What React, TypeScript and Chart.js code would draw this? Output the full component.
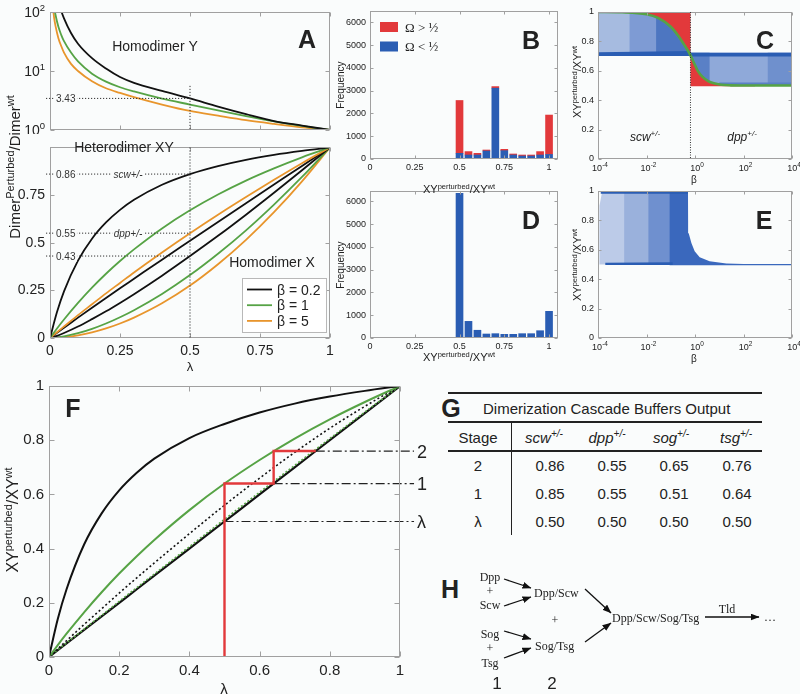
import React, { useEffect, useRef } from "react";
import { Chart, registerables } from "chart.js";
Chart.register(...registerables);

const SANS = '"Liberation Sans", Arial, Helvetica, sans-serif';
const SERIF = '"Liberation Serif", "Times New Roman", serif';
const BG = "#fafcfc";
const BLACK = "#111111";
const GREEN = "#56a345";
const ORANGE = "#e8952c";
const RED = "#e2393b";
const BLUE = "#2a5db3";
const FRAME = "#a0a0a0";

// ---------------- Panel A data ----------------
const lambdaY = [0.01, 0.015, 0.02, 0.03, 0.04, 0.05, 0.075, 0.1, 0.15, 0.2, 0.25, 0.3, 0.4, 0.5, 0.6, 0.7, 0.8, 0.9, 1];
const homodimerY_b02 = [1000, 480, 280, 160, 105, 78, 44, 29, 16.5, 11, 7.9, 6.3, 4.6, 3.43, 2.5, 1.86, 1.42, 1.19, 1];
const homodimerY_b1 = [190, 120, 88, 56, 41, 32, 20.5, 14.5, 9, 6.6, 5.3, 4.5, 3.4, 2.7, 2.15, 1.72, 1.4, 1.17, 1];
const homodimerY_b5 = [125, 78, 57, 36, 26.5, 20.5, 13.2, 10, 6.7, 5.1, 4.25, 3.6, 2.7, 2.1, 1.75, 1.47, 1.27, 1.11, 1];

const lambdaGrid = [0, 0.025, 0.05, 0.1, 0.15, 0.2, 0.25, 0.3, 0.4, 0.5, 0.6, 0.7, 0.8, 0.9, 1];
const heteroXY_b02 = [0, 0.136, 0.245, 0.406, 0.521, 0.606, 0.672, 0.725, 0.804, 0.86, 0.902, 0.935, 0.961, 0.982, 1];
const heteroXY_b1 = [0, 0.05, 0.097, 0.184, 0.264, 0.337, 0.404, 0.465, 0.575, 0.67, 0.753, 0.826, 0.89, 0.948, 1];
const heteroXY_b5 = [0, 0.03, 0.06, 0.12, 0.177, 0.234, 0.289, 0.344, 0.449, 0.55, 0.647, 0.74, 0.83, 0.917, 1];
const middle_b02 = [0, 0.028, 0.054, 0.107, 0.159, 0.21, 0.261, 0.311, 0.411, 0.51, 0.609, 0.707, 0.805, 0.903, 1];
const homodimerX_b02 = [0, 0.011, 0.026, 0.06, 0.099, 0.14, 0.184, 0.23, 0.327, 0.43, 0.536, 0.647, 0.762, 0.88, 1];
const homodimerX_b1 = [0, 0.003, 0.008, 0.025, 0.048, 0.076, 0.109, 0.146, 0.231, 0.33, 0.442, 0.565, 0.7, 0.845, 1];
const homodimerX_b5 = [0, 0.001, 0.004, 0.014, 0.029, 0.05, 0.076, 0.107, 0.182, 0.275, 0.387, 0.515, 0.66, 0.822, 1];

const betaLegend = ["\u03b2 = 0.2", "\u03b2 = 1", "\u03b2 = 5"];
const aTicksX = [0, 0.25, 0.5, 0.75, 1];
const aTicksY = [0, 0.25, 0.5, 0.75];
const aTicksLog = [1, 10, 100];
const refLambda = 0.5;
const refHomY = 3.43;
const refXYValues = [0.86, 0.55, 0.43];
const refXYLabels = ["0.86", "0.55", "0.43"];
const refXYGenes = ["scw+/-", "dpp+/-", ""];

// ---------------- Panels B / D ----------------
const histBins = [0.5, 0.55, 0.6, 0.65, 0.7, 0.75, 0.8, 0.85, 0.9, 0.95, 1.0];
const bOmegaLow = [250, 175, 175, 350, 3110, 365, 175, 130, 130, 175, 200];
const bOmegaHigh = [2320, 150, 75, 45, 70, 60, 45, 45, 45, 150, 1730];
const dCounts = [6350, 730, 340, 175, 190, 160, 160, 190, 190, 320, 1170];
const histTicksX = [0, 0.25, 0.5, 0.75, 1];
const histTicksY = [0, 1000, 2000, 3000, 4000, 5000, 6000];
const omegaLegend = ["\u03a9 > \u00bd", "\u03a9 < \u00bd"];

// ---------------- Panels C / E ----------------
const betaTicks = [1e-4, 1e-2, 1, 1e2, 1e4];
const fracTicks = [0, 0.2, 0.4, 0.6, 0.8, 1];
const cCurveBeta = [1e-4, 1e-3, 1e-2, 0.03, 0.1, 0.2, 0.35, 0.5, 0.65, 0.9, 1.3, 2, 3.5, 6, 12, 30, 100, 1e4];
const cCurveY = [1.0, 0.998, 0.985, 0.96, 0.9, 0.84, 0.78, 0.74, 0.705, 0.655, 0.6, 0.56, 0.53, 0.515, 0.505, 0.501, 0.5, 0.5];
const cSplitBeta = 0.65;
const cRedLeft = [[1e-4, 1.0], [0.65, 1.0], [0.65, 0.705], [0.5, 0.74], [0.35, 0.78], [0.2, 0.84], [0.1, 0.9], [0.03, 0.96], [0.01, 0.985], [1e-3, 0.998], [1e-4, 1.0]];
const cBlueLeftSparse = [[1e-4, 0.7], [0.65, 0.7], [0.65, 0.705], [0.5, 0.74], [0.35, 0.78], [0.2, 0.84], [0.1, 0.9], [0.03, 0.96], [0.01, 0.985], [1e-3, 0.997], [1e-4, 0.998]];
const cBlueLeftMid = [[2e-3, 0.7], [0.65, 0.7], [0.65, 0.705], [0.5, 0.74], [0.35, 0.78], [0.2, 0.84], [0.1, 0.9], [0.03, 0.96], [0.01, 0.985], [2e-3, 0.995]];
const cBlueLeftDense = [[0.025, 0.7], [0.65, 0.7], [0.65, 0.705], [0.5, 0.74], [0.35, 0.78], [0.2, 0.84], [0.1, 0.9], [0.03, 0.96], [0.025, 0.965]];
const cBlueLeftBand = [[1e-4, 0.7], [0.65, 0.7], [0.65, 0.735], [1e-4, 0.726]];
const cRedRight = [[0.65, 0.705], [0.9, 0.655], [1.3, 0.6], [2, 0.56], [3.5, 0.53], [6, 0.515], [12, 0.505], [30, 0.501], [100, 0.5], [300, 0.497], [300, 0.495], [0.65, 0.495]];
const cBlueRightSparse = [[0.65, 0.722], [1e4, 0.722], [1e4, 0.497], [100, 0.497], [30, 0.501], [12, 0.505], [6, 0.515], [3.5, 0.53], [2, 0.56], [1.3, 0.6], [0.9, 0.655], [0.65, 0.705]];
const cBlueRightDense = [[0.65, 0.705], [0.65, 0.722], [4, 0.722], [4, 0.528], [2, 0.56], [1.3, 0.6], [0.9, 0.655]];
const cBlueRightEdge = [[1000, 0.5], [1e4, 0.497], [1e4, 0.722], [1000, 0.722]];
const cBlueRightBand = [[0.65, 0.698], [1e4, 0.698], [1e4, 0.722], [0.65, 0.722]];
const cBlueRightBottom = [[10, 0.503], [1e4, 0.497], [1e4, 0.52], [10, 0.52]];

const eSparse = [[1.15e-4, 0.5], [0.12, 0.5], [0.12, 1.0], [1.5e-4, 1.0], [1.15e-4, 0.9]];
const eMid1 = [[1.2e-3, 0.5], [0.12, 0.5], [0.12, 1.0], [1.2e-3, 1.0]];
const eMid2 = [[0.012, 0.5], [0.12, 0.5], [0.12, 1.0], [0.012, 1.0]];
const eDense = [[0.09, 0.495], [1e4, 0.495], [1e4, 0.503], [100, 0.503], [19.6, 0.507], [4, 0.522], [1.56, 0.55], [0.97, 0.59], [0.71, 0.646], [0.55, 0.713], [0.52, 0.8], [0.514, 1.0], [0.09, 1.0]];
const eTopBand = [[1.3e-4, 0.982], [0.514, 0.982], [0.514, 1.0], [1.3e-4, 1.0]];
const eBottomBand = [[2e-4, 0.497], [0.12, 0.497], [0.12, 0.515], [2e-4, 0.512]];

// ---------------- Panel F ----------------
const fTicks = [0, 0.2, 0.4, 0.6, 0.8, 1];
const fBlack = [0, 0.14, 0.25, 0.415, 0.53, 0.615, 0.68, 0.732, 0.808, 0.86, 0.902, 0.935, 0.961, 0.982, 1];
const fGreen = [0, 0.044, 0.086, 0.165, 0.239, 0.308, 0.372, 0.432, 0.542, 0.64, 0.727, 0.806, 0.877, 0.941, 1];
const fDotted = [0, 0.03, 0.06, 0.12, 0.178, 0.236, 0.292, 0.347, 0.455, 0.56, 0.66, 0.755, 0.844, 0.925, 1];
const fGreenDotted = [0, 0.026, 0.052, 0.103, 0.154, 0.205, 0.256, 0.306, 0.407, 0.508, 0.608, 0.707, 0.806, 0.904, 1];
const fDiagonal = [0, 0.025, 0.05, 0.1, 0.15, 0.2, 0.25, 0.3, 0.4, 0.5, 0.6, 0.7, 0.8, 0.9, 1];
const stepX = [0.5, 0.5, 0.64, 0.64, 0.76];
const stepY = [0, 0.64, 0.64, 0.76, 0.76];
const stageLevels = [0.5, 0.64, 0.76];
const stageLabels = ["\u03bb", "1", "2"];
const stageLineEnd = 1.04;

// ---------------- Panel G ----------------
const tableGenes = ["scw", "dpp", "sog", "tsg"];
const tableStages = ["2", "1", "\u03bb"];
const tableValues = [
  ["0.86", "0.55", "0.65", "0.76"],
  ["0.85", "0.55", "0.51", "0.64"],
  ["0.50", "0.50", "0.50", "0.50"],
];

// ---------------- helpers ----------------
type Pt = { x: number; y: number };
const toPts = (xs: number[], ys: number[]): Pt[] => xs.map((x, i) => ({ x, y: ys[i] }));
const toPoly = (p: number[][]): Pt[] => p.map(([x, y]) => ({ x, y }));

interface Frame { cl: number; ct: number; cw: number; ch: number; x0: number; y0: number; x1: number; y1: number; }

type Seg = { t: string; s: number; sup?: boolean; it?: boolean; b?: boolean; fam?: string };
function rich(ctx: CanvasRenderingContext2D, segs: Seg[], x: number, y: number, align: "left" | "center" | "right", color = "#222", bg?: string) {
  const fnt = (g: Seg) => `${g.it ? "italic " : ""}${g.b ? "bold " : ""}${g.s}px ${g.fam || SANS}`;
  const mains = segs.filter((g) => !g.sup).map((g) => g.s);
  const main = mains.length ? Math.max(...mains) : segs[0].s;
  const ws = segs.map((g) => { ctx.font = fnt(g); return ctx.measureText(g.t).width; });
  const w = ws.reduce((a, b) => a + b, 0);
  let cx = align === "left" ? x : align === "center" ? x - w / 2 : x - w;
  const base = y + main * 0.36;
  if (bg) { ctx.fillStyle = bg; ctx.fillRect(cx - 1.5, y - main * 0.55, w + 3, main * 1.1); }
  ctx.fillStyle = color; ctx.textAlign = "left"; ctx.textBaseline = "alphabetic";
  segs.forEach((g, i) => { ctx.font = fnt(g); ctx.fillText(g.t, cx, g.sup ? base - main * 0.42 : base); cx += ws[i]; });
}
function segLine(ctx: CanvasRenderingContext2D, x1: number, y1: number, x2: number, y2: number, color = "#333", dash: number[] = [1.2, 1.8], w = 1) {
  ctx.save(); ctx.strokeStyle = color; ctx.lineWidth = w; ctx.setLineDash(dash);
  ctx.beginPath(); ctx.moveTo(x1, y1); ctx.lineTo(x2, y2); ctx.stroke(); ctx.restore();
}

function framePlugin(xTicks: number[], yTicks: number[], len = 4) {
  return {
    id: "frame",
    afterDatasetsDraw(chart: any) {
      const { ctx, chartArea: a } = chart;
      const sx = chart.scales.x, sy = chart.scales.y;
      ctx.save();
      ctx.strokeStyle = FRAME; ctx.lineWidth = 1; ctx.setLineDash([]);
      const L = Math.round(a.left) + 0.5, T = Math.round(a.top) + 0.5, R = Math.round(a.right) - 0.5, B = Math.round(a.bottom) - 0.5;
      ctx.strokeRect(L, T, R - L, B - T);
      ctx.beginPath();
      for (const v of xTicks) { const x = Math.round(sx.getPixelForValue(v)) + 0.5; ctx.moveTo(x, B); ctx.lineTo(x, B - len); ctx.moveTo(x, T); ctx.lineTo(x, T + len); }
      for (const v of yTicks) { const y = Math.round(sy.getPixelForValue(v)) + 0.5; ctx.moveTo(L, y); ctx.lineTo(L + len, y); ctx.moveTo(R, y); ctx.lineTo(R - len, y); }
      ctx.stroke();
      ctx.restore();
    },
  };
}
function drawPlugin(fn: (chart: any) => void) {
  return { id: "ann", afterDatasetsDraw(chart: any) { const ctx = chart.ctx; ctx.save(); fn(chart); ctx.restore(); } };
}

function axis(kind: "x" | "y", f: Frame, o: { type?: string; min: number; max: number; ticks: number[]; size?: number; pad?: number; hide?: boolean; stacked?: boolean }) {
  return {
    type: o.type || "linear", min: o.min, max: o.max, position: kind === "x" ? "bottom" : "left",
    offset: false, stacked: o.stacked,
    grid: { display: false, drawTicks: false },
    border: { display: false },
    ticks: {
      display: !o.hide, autoSkip: false, maxRotation: 0, minRotation: 0, padding: o.pad ?? 4, color: "#222",
      font: { family: SANS, size: o.size ?? 12 },
      callback: (v: any) => String(Number(v)),
    },
    afterBuildTicks: (s: any) => { s.ticks = o.ticks.map((v) => ({ value: v })); },
    afterFit: (s: any) => { if (kind === "x") s.height = f.ct + f.ch - f.y1; else s.width = f.x0 - f.cl; },
  };
}
function baseOptions(f: Frame, scales: any) {
  return {
    responsive: false, maintainAspectRatio: false, animation: false, events: [],
    layout: { autoPadding: false, padding: { left: 0, top: f.y0 - f.ct, right: f.cl + f.cw - f.x1, bottom: 0 } },
    plugins: { legend: { display: false }, tooltip: { enabled: false }, title: { display: false } },
    scales,
  };
}
const curve = (data: Pt[], color: string, width = 1.8, dash: number[] = []) => ({
  type: "line", data, borderColor: color, borderWidth: width, borderDash: dash, pointRadius: 0, fill: false,
  tension: 0.3, cubicInterpolationMode: "monotone",
});
const straight = (data: Pt[], color: string, width = 2, dash: number[] = [], clip: any = undefined) => ({
  type: "line", data, borderColor: color, borderWidth: width, borderDash: dash, pointRadius: 0, fill: false, tension: 0, clip,
});
const area = (p: number[][], color: string) => ({
  type: "line", data: toPoly(p), borderColor: "rgba(0,0,0,0)", borderWidth: 0, backgroundColor: color, fill: "shape", pointRadius: 0, tension: 0,
});
const bottomUp = (ds: any[]) => ds.map((d, i) => ({ ...d, order: ds.length - i }));

function logLabelsX(ctx: CanvasRenderingContext2D, chart: any, ticks: number[], size: number, dy: number) {
  const a = chart.chartArea, sx = chart.scales.x;
  for (const v of ticks) {
    rich(ctx, [{ t: "10", s: size }, { t: String(Math.round(Math.log10(v))), s: size * 0.72, sup: true }], sx.getPixelForValue(v) + 2, a.bottom + dy, "center");
  }
}

// ---------------- frames ----------------
const fAT: Frame = { cl: 0, ct: 0, cw: 340, ch: 134, x0: 50, y0: 12, x1: 330, y1: 130 };
const fAB: Frame = { cl: 0, ct: 134, cw: 340, ch: 236, x0: 50, y0: 137, x1: 330, y1: 338 };
const fB: Frame = { cl: 330, ct: 0, cw: 240, ch: 196, x0: 370, y0: 11, x1: 558, y1: 159 };
const fD: Frame = { cl: 330, ct: 180, cw: 240, ch: 190, x0: 370, y0: 191, x1: 558, y1: 338 };
const fC: Frame = { cl: 570, ct: 0, cw: 230, ch: 196, x0: 598, y0: 12, x1: 792, y1: 159 };
const fE: Frame = { cl: 570, ct: 180, cw: 230, ch: 190, x0: 598, y0: 191, x1: 792, y1: 338 };
const fF: Frame = { cl: 0, ct: 372, cw: 440, ch: 322, x0: 49, y0: 382, x1: 400, y1: 657 };

// ---------------- chart configs ----------------
function makeAT(f: Frame) {
  return {
    type: "line",
    data: { datasets: [
      curve(toPts(lambdaY, homodimerY_b02), BLACK),
      curve(toPts(lambdaY, homodimerY_b1), GREEN),
      curve(toPts(lambdaY, homodimerY_b5), ORANGE),
    ] },
    options: baseOptions(f, {
      x: axis("x", f, { min: 0, max: 1, ticks: aTicksX, hide: true }),
      y: axis("y", f, { type: "logarithmic", min: 1, max: 100, ticks: aTicksLog, hide: true }),
    }),
    plugins: [framePlugin(aTicksX, aTicksLog), drawPlugin((chart) => {
      const ctx = chart.ctx, a = chart.chartArea, sx = chart.scales.x, sy = chart.scales.y;
      const xr = sx.getPixelForValue(refLambda), yr = sy.getPixelForValue(refHomY);
      segLine(ctx, a.left - 4, yr, xr, yr);
      segLine(ctx, xr, sy.getPixelForValue(5.6), xr, a.bottom);
      rich(ctx, [{ t: "3.43", s: 10 }], a.left + 6, yr, "left", "#333", BG);
      for (const v of aTicksLog) {
        rich(ctx, [{ t: "10", s: 14 }, { t: String(Math.round(Math.log10(v))), s: 9.5, sup: true }], a.left - 5, sy.getPixelForValue(v), "right");
      }
      rich(ctx, [{ t: "Homodimer Y", s: 14 }], 155, 46, "center");
    })],
  };
}

function makeAB(f: Frame) {
  const colors = [BLACK, GREEN, ORANGE];
  return {
    type: "line",
    data: { datasets: [
      curve(toPts(lambdaGrid, heteroXY_b02), BLACK),
      curve(toPts(lambdaGrid, heteroXY_b1), GREEN),
      curve(toPts(lambdaGrid, heteroXY_b5), ORANGE),
      curve(toPts(lambdaGrid, middle_b02), BLACK),
      curve(toPts(lambdaGrid, homodimerX_b02), BLACK),
      curve(toPts(lambdaGrid, homodimerX_b1), GREEN),
      curve(toPts(lambdaGrid, homodimerX_b5), ORANGE),
    ] },
    options: baseOptions(f, {
      x: axis("x", f, { min: 0, max: 1, ticks: aTicksX, size: 14, pad: 5 }),
      y: axis("y", f, { min: 0, max: 1, ticks: aTicksY, size: 14, pad: 5 }),
    }),
    plugins: [framePlugin(aTicksX, aTicksY), drawPlugin((chart) => {
      const ctx = chart.ctx, a = chart.chartArea, sx = chart.scales.x, sy = chart.scales.y;
      const xr = sx.getPixelForValue(refLambda);
      segLine(ctx, xr, a.top, xr, a.bottom);
      refXYValues.forEach((v, i) => {
        const y = sy.getPixelForValue(v);
        segLine(ctx, a.left - 4, y, xr, y);
        rich(ctx, [{ t: refXYLabels[i], s: 10 }], a.left + 6, y, "left", "#333", BG);
        if (refXYGenes[i]) rich(ctx, [{ t: refXYGenes[i], s: 10, it: true }], 128, y, "center", "#333", BG);
      });
      rich(ctx, [{ t: "Heterodimer XY", s: 14 }], 124, 13, "center");
      rich(ctx, [{ t: "Homodimer X", s: 14 }], 272, 128, "center");
      ctx.fillStyle = "#ffffff"; ctx.fillRect(242.5, 144.5, 84, 54);
      ctx.strokeStyle = "#b8b8b8"; ctx.lineWidth = 1; ctx.setLineDash([]); ctx.strokeRect(242.5, 144.5, 84, 54);
      betaLegend.forEach((t, i) => {
        const y = 155.5 + i * 15.7;
        ctx.strokeStyle = colors[i]; ctx.lineWidth = 1.8; ctx.beginPath(); ctx.moveTo(247, y); ctx.lineTo(272, y); ctx.stroke();
        rich(ctx, [{ t, s: 14 }], 277, y, "left");
      });
    })],
  };
}

function makeB(f: Frame) {
  return {
    type: "bar",
    data: { datasets: [
      { label: omegaLegend[1], data: toPts(histBins, bOmegaLow), backgroundColor: BLUE, barThickness: 7 },
      { label: omegaLegend[0], data: toPts(histBins, bOmegaHigh), backgroundColor: RED, barThickness: 7 },
    ] },
    options: baseOptions(f, {
      x: axis("x", f, { min: 0, max: 1.05, ticks: histTicksX, size: 9, pad: 3, stacked: true }),
      y: axis("y", f, { min: 0, max: 6500, ticks: histTicksY, size: 9, pad: 4, stacked: true }),
    }),
    plugins: [framePlugin(histTicksX, histTicksY, 3), drawPlugin((chart) => {
      const ctx = chart.ctx;
      const cols = [RED, BLUE];
      omegaLegend.forEach((t, i) => {
        const y = 27 + i * 19.5;
        ctx.fillStyle = cols[i]; ctx.fillRect(50, y - 5, 18, 10);
        rich(ctx, [{ t, s: 13, fam: SERIF }], 75, y, "left");
      });
    })],
  };
}

function makeD(f: Frame) {
  return {
    type: "bar",
    data: { datasets: [
      { label: "count", data: toPts(histBins, dCounts), backgroundColor: BLUE, barThickness: 7 },
    ] },
    options: baseOptions(f, {
      x: axis("x", f, { min: 0, max: 1.05, ticks: histTicksX, size: 9, pad: 3 }),
      y: axis("y", f, { min: 0, max: 6450, ticks: histTicksY, size: 9, pad: 4 }),
    }),
    plugins: [framePlugin(histTicksX, histTicksY, 3)],
  };
}

function makeC(f: Frame) {
  const ds = bottomUp([
    area(cRedLeft, RED),
    area(cBlueLeftSparse, "#a6bbe0"),
    area(cBlueLeftMid, "#7e9bd4"),
    area(cBlueLeftDense, "#4d76c1"),
    area(cBlueLeftBand, BLUE),
    area(cRedRight, RED),
    area(cBlueRightSparse, "#8fa9d9"),
    area(cBlueRightDense, "#5a80c6"),
    area(cBlueRightEdge, "#6f90cd"),
    area(cBlueRightBand, BLUE),
    area(cBlueRightBottom, "#5a80c6"),
    curve(toPts(cCurveBeta, cCurveY), GREEN, 2.6),
  ]);
  return {
    type: "line",
    data: { datasets: ds },
    options: baseOptions(f, {
      x: axis("x", f, { type: "logarithmic", min: 1e-4, max: 1e4, ticks: betaTicks, hide: true }),
      y: axis("y", f, { min: 0, max: 1, ticks: fracTicks, size: 9, pad: 4 }),
    }),
    plugins: [framePlugin(betaTicks, fracTicks, 3), drawPlugin((chart) => {
      const ctx = chart.ctx, a = chart.chartArea, sx = chart.scales.x;
      const xs = sx.getPixelForValue(cSplitBeta);
      segLine(ctx, xs, a.top, xs, a.bottom, "#333", [1, 1.5]);
      logLabelsX(ctx, chart, betaTicks, 9, 9);
      rich(ctx, [{ t: "scw", s: 12, it: true }, { t: "+/-", s: 8, it: true, sup: true }], 75, 137, "center");
      rich(ctx, [{ t: "dpp", s: 12, it: true }, { t: "+/-", s: 8, it: true, sup: true }], 172, 137, "center");
    })],
  };
}

function makeE(f: Frame) {
  const ds = bottomUp([
    area(eSparse, "#bccbe8"),
    area(eMid1, "#9ab1dc"),
    area(eMid2, "#6f90cf"),
    area(eDense, "#3a68bd"),
    area(eTopBand, BLUE),
    area(eBottomBand, BLUE),
  ]);
  return {
    type: "line",
    data: { datasets: ds },
    options: baseOptions(f, {
      x: axis("x", f, { type: "logarithmic", min: 1e-4, max: 1e4, ticks: betaTicks, hide: true }),
      y: axis("y", f, { min: 0, max: 1, ticks: fracTicks, size: 9, pad: 4 }),
    }),
    plugins: [framePlugin(betaTicks, fracTicks, 3), drawPlugin((chart) => {
      logLabelsX(chart.ctx, chart, betaTicks, 9, 9);
    })],
  };
}

function makeF(f: Frame) {
  const dashDot = [9, 3, 2, 3];
  const ds = bottomUp([
    curve(toPts(lambdaGrid, fDiagonal), BLACK, 2.2),
    curve(toPts(lambdaGrid, fGreenDotted), GREEN, 1.6, [2, 2]),
    curve(toPts(lambdaGrid, fDotted), BLACK, 1.6, [2, 2.5]),
    curve(toPts(lambdaGrid, fGreen), GREEN, 2),
    curve(toPts(lambdaGrid, fBlack), BLACK, 2),
    ...stageLevels.map((v) => straight([{ x: v, y: v }, { x: stageLineEnd, y: v }], "#222", 1.2, dashDot, false)),
    straight(toPts(stepX, stepY), RED, 2.4),
  ]);
  return {
    type: "line",
    data: { datasets: ds },
    options: baseOptions(f, {
      x: axis("x", f, { min: 0, max: 1, ticks: fTicks, size: 15, pad: 5 }),
      y: axis("y", f, { min: 0, max: 1, ticks: fTicks, size: 15, pad: 5 }),
    }),
    plugins: [framePlugin(fTicks, fTicks, 5), drawPlugin((chart) => {
      const ctx = chart.ctx, sx = chart.scales.x, sy = chart.scales.y;
      stageLevels.forEach((v, i) => {
        rich(ctx, [{ t: stageLabels[i], s: 18 }], sx.getPixelForValue(stageLineEnd) + 3, sy.getPixelForValue(v), "left");
      });
    })],
  };
}

// ---------------- React bits ----------------
function ChartBox({ f, make }: { f: Frame; make: (f: Frame) => any }) {
  const ref = useRef<HTMLCanvasElement | null>(null);
  useEffect(() => {
    if (!ref.current) return;
    const chart = new Chart(ref.current, make(f));
    return () => chart.destroy();
  }, []);
  return <canvas ref={ref} width={f.cw} height={f.ch} style={{ position: "absolute", left: f.cl, top: f.ct, width: f.cw, height: f.ch }} />;
}

function T({ x, y, size, children, rot, bold, italic, family, anchor, color }: any) {
  const tx = anchor === "left" ? "0" : "-50%";
  return (
    <div style={{
      position: "absolute", left: x, top: y, transform: `translate(${tx}, -50%)${rot ? ` rotate(${rot}deg)` : ""}`,
      whiteSpace: "nowrap", fontSize: size, fontFamily: family || SANS, fontWeight: bold ? "bold" : "normal",
      fontStyle: italic ? "italic" : "normal", lineHeight: 1, color: color || "#222",
    }}>{children}</div>
  );
}
const Sup = ({ s, up, children }: any) => <span style={{ fontSize: s, position: "relative", top: -up }}>{children}</span>;
const XYTitle = ({ b, s }: any) => (<span>XY<Sup s={s} up={b * 0.4}>perturbed</Sup>/XY<Sup s={s} up={b * 0.4}>wt</Sup></span>);

export default function App() {
  const colX = [550, 612, 674, 737];
  const headX = [544, 607, 671, 736];
  const rowY = [465, 493, 521];
  return (
    <div style={{ position: "absolute", left: 0, top: 0, width: 800, height: 694, background: BG, overflow: "hidden" }}>
      <ChartBox f={fAT} make={makeAT} />
      <ChartBox f={fAB} make={makeAB} />
      <ChartBox f={fB} make={makeB} />
      <ChartBox f={fD} make={makeD} />
      <ChartBox f={fC} make={makeC} />
      <ChartBox f={fE} make={makeE} />
      <ChartBox f={fF} make={makeF} />

      <T x={307} y={39} size={25} bold>A</T>
      <T x={531} y={40} size={25} bold>B</T>
      <T x={765} y={40} size={25} bold>C</T>
      <T x={531} y={220} size={25} bold>D</T>
      <T x={764} y={220} size={25} bold>E</T>
      <T x={73} y={408} size={25} bold>F</T>
      <T x={451} y={408} size={25} bold>G</T>
      <T x={450} y={589} size={25} bold>H</T>

      <T x={14} y={167} size={15} rot={-90}>Dimer<Sup s={11} up={6}>Perturbed</Sup>/Dimer<Sup s={11} up={6}>wt</Sup></T>
      <T x={190} y={366} size={13}>{"\u03bb"}</T>
      <T x={341} y={85} size={10} rot={-90}>Frequency</T>
      <T x={459} y={189} size={11}><XYTitle b={11} s={7.5} /></T>
      <T x={341} y={265} size={10} rot={-90}>Frequency</T>
      <T x={459} y={357} size={11}><XYTitle b={11} s={7.5} /></T>
      <T x={577} y={82} size={11} rot={-90}><XYTitle b={11} s={7.5} /></T>
      <T x={694} y={180} size={10}>{"\u03b2"}</T>
      <T x={577} y={265} size={11} rot={-90}><XYTitle b={11} s={7.5} /></T>
      <T x={694} y={359} size={10}>{"\u03b2"}</T>
      <T x={13} y={520} size={16} rot={-90}><XYTitle b={16} s={11} /></T>
      <T x={224} y={688} size={15}>{"\u03bb"}</T>

      <div style={{ position: "absolute", left: 448, top: 392, width: 314, height: 2, background: "#222" }} />
      <div style={{ position: "absolute", left: 448, top: 421, width: 314, height: 2, background: "#222" }} />
      <div style={{ position: "absolute", left: 448, top: 450, width: 314, height: 1.5, background: "#222" }} />
      <div style={{ position: "absolute", left: 510.5, top: 421, width: 1.5, height: 114, background: "#222" }} />
      <T x={483} y={408} size={15} anchor="left">Dimerization Cascade Buffers Output</T>
      <T x={478} y={437} size={15}>Stage</T>
      {tableGenes.map((g, i) => (
        <T key={g} x={headX[i]} y={437} size={15} italic>{g}<Sup s={10} up={6}>+/-</Sup></T>
      ))}
      {tableStages.map((s, r) => (
        <React.Fragment key={r}>
          <T x={478} y={rowY[r]} size={15}>{s}</T>
          {tableValues[r].map((v, c) => (<T key={c} x={colX[c]} y={rowY[r]} size={15}>{v}</T>))}
        </React.Fragment>
      ))}

      <svg width={800} height={694} style={{ position: "absolute", left: 0, top: 0, pointerEvents: "none" }}>
        <defs>
          <marker id="ah" markerWidth="9" markerHeight="7" refX="8.5" refY="3.5" orient="auto" markerUnits="userSpaceOnUse">
            <path d="M0,0 L9,3.5 L0,7 z" fill="#111" />
          </marker>
        </defs>
        <g stroke="#111" strokeWidth="1.3" fill="none">
          <line x1={504} y1={579} x2={531} y2={588} markerEnd="url(#ah)" />
          <line x1={504} y1={606} x2={531} y2={597} markerEnd="url(#ah)" />
          <line x1={504} y1={631} x2={531} y2={639} markerEnd="url(#ah)" />
          <line x1={504} y1={658} x2={531} y2={648} markerEnd="url(#ah)" />
          <line x1={585} y1={589} x2={611} y2={613} markerEnd="url(#ah)" />
          <line x1={585} y1={642} x2={611} y2={623} markerEnd="url(#ah)" />
          <line x1={705} y1={617} x2={759} y2={617} markerEnd="url(#ah)" />
        </g>
      </svg>
      <T x={490} y={577} size={12} family={SERIF}>Dpp</T>
      <T x={490} y={591} size={12} family={SERIF}>+</T>
      <T x={490} y={605} size={12} family={SERIF}>Scw</T>
      <T x={490} y={634} size={12} family={SERIF}>Sog</T>
      <T x={490} y={648} size={12} family={SERIF}>+</T>
      <T x={490} y={663} size={12} family={SERIF}>Tsg</T>
      <T x={534} y={593} size={12} family={SERIF} anchor="left">Dpp/Scw</T>
      <T x={555} y={620} size={12} family={SERIF}>+</T>
      <T x={535} y={646} size={12} family={SERIF} anchor="left">Sog/Tsg</T>
      <T x={612} y={618} size={12} family={SERIF} anchor="left">Dpp/Scw/Sog/Tsg</T>
      <T x={727} y={609} size={12} family={SERIF}>Tld</T>
      <T x={764} y={617} size={12} family={SERIF} anchor="left">{"\u2026"}</T>
      <T x={497} y={683} size={17}>1</T>
      <T x={552} y={683} size={17}>2</T>
    </div>
  );
}
